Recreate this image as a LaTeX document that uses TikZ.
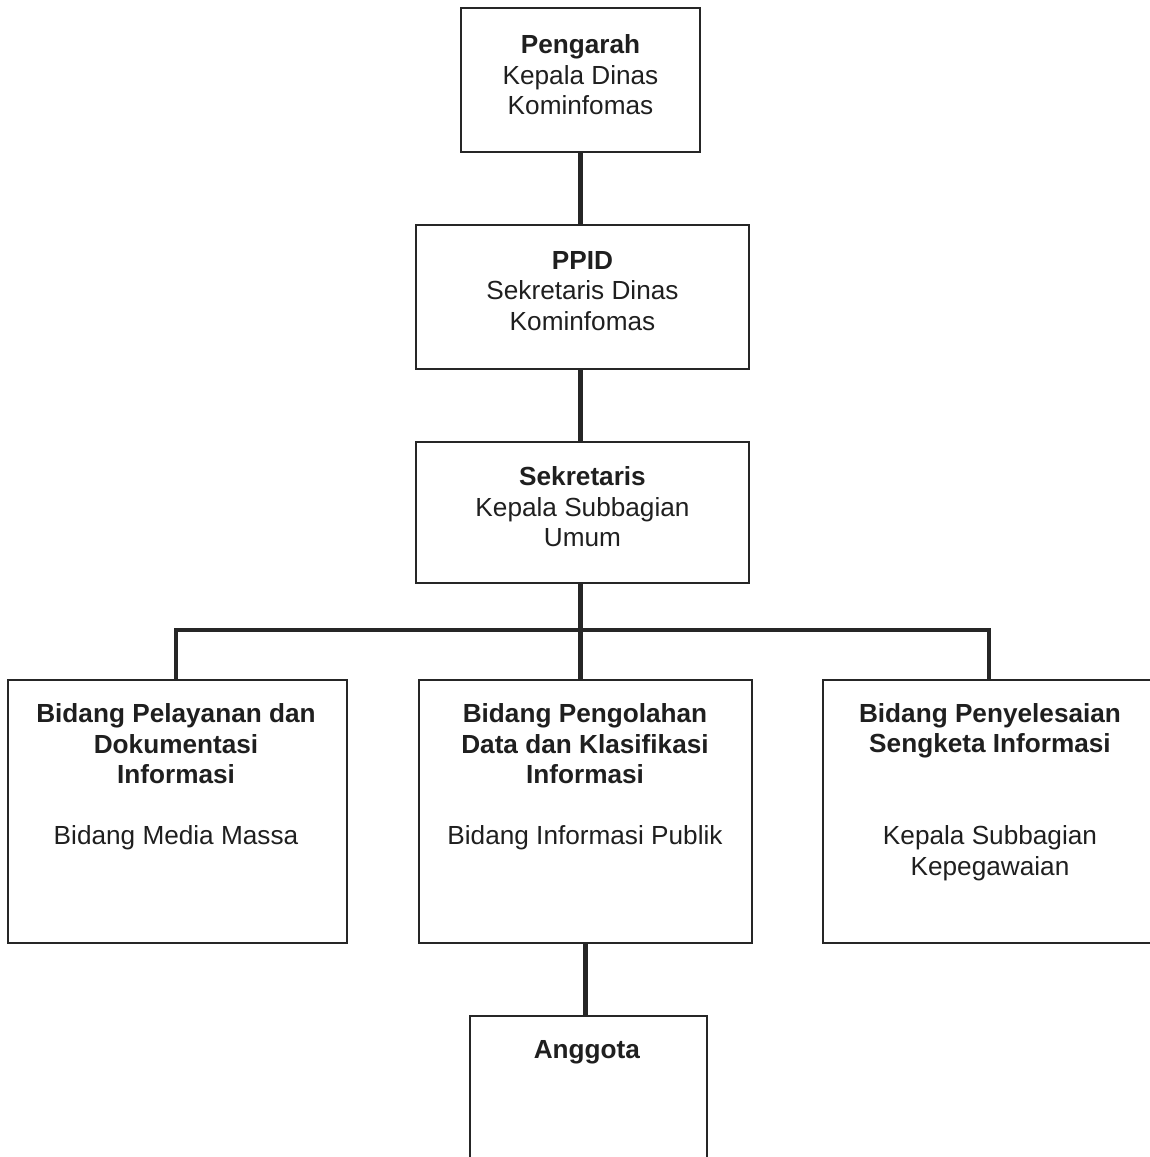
\documentclass[tikz,border=0pt]{standalone}
\usepackage{fontspec}
\setmainfont{Liberation Sans}
\usepackage{tikz}
\usetikzlibrary{positioning}
\usetikzlibrary{calc}

\begin{document}
\begin{tikzpicture}[x=0.2mm, y=-0.2mm,
    box/.style={draw=black!85, line width=1.1pt, inner sep=0pt},
    link/.style={draw=black!85, line width=2.5pt},
    txt/.style={align=center, text=black!88, inner sep=0pt,
      font=\fontsize{14.9}{17.4}\selectfont}]

  \useasboundingbox (0,0) rectangle (1150,1157);

  % Boxes, top to bottom
  \node[box, minimum width=4.78cm, minimum height=2.88cm] (peng) at (580.5,80) {};
  \node[box, minimum width=6.66cm, minimum height=2.88cm] (ppid) at (582.5,297) {};
  \node[box, minimum width=6.66cm, minimum height=2.82cm] (sekr) at (582.5,512.5) {};

  \node[box, minimum width=6.78cm, minimum height=5.26cm] (pelayanan) at (177.5,811.5) {};
  \node[box, minimum width=6.66cm, minimum height=5.26cm] (pengolahan) at (585.5,811.5) {};
  \node[box, minimum width=6.70cm, minimum height=5.26cm] (sengketa) at (990.5,811.5) {};

  \node[box, minimum width=4.74cm, minimum height=2.88cm] (anggota) at (588.5,1088) {};

  % Texts
  \node[txt] (peng-t) at (580.5,75) {\textbf{Pengarah}\\Kepala Dinas\\Kominfomas};
  \node[txt] (ppid-t) at (582.5,291) {\textbf{PPID}\\Sekretaris Dinas\\Kominfomas};
  \node[txt] (sekr-t) at (582.5,507) {\textbf{Sekretaris}\\Kepala Subbagian\\Umum};

  \node[txt] (pelayanan-t) at (176,777)
    {\textbf{Bidang Pelayanan dan}\\\textbf{Dokumentasi}\\\textbf{Informasi}\\[17.4pt]Bidang Media Massa};
  \node[txt] (pengolahan-t) at (585,777)
    {\textbf{Bidang Pengolahan}\\\textbf{Data dan Klasifikasi}\\\textbf{Informasi}\\[17.4pt]Bidang Informasi Publik};
  \node[txt] (sengketa-t) at (990,792)
    {\textbf{Bidang Penyelesaian}\\\textbf{Sengketa Informasi}\\[34.8pt]Kepala Subbagian\\Kepegawaian};

  \node[txt] (anggota-t) at (587,1052) {\textbf{Anggota}};

  % Connectors
  \coordinate (bar) at (582.5,630);

  \draw[link] (peng.south) -- (peng.south |- ppid.north);
  \draw[link] (ppid.south -| peng.south) -- (sekr.north -| peng.south);
  \draw[link] (sekr.south -| peng.south) -- (pengolahan.north -| peng.south);
  \draw[link] ($(pelayanan.north)+(-1.5,0)$) |- (bar) -| ($(sengketa.north)+(-1.5,0)$);
  \draw[link] (pengolahan.south) -- (pengolahan.south |- anggota.north);

\end{tikzpicture}
\end{document}
